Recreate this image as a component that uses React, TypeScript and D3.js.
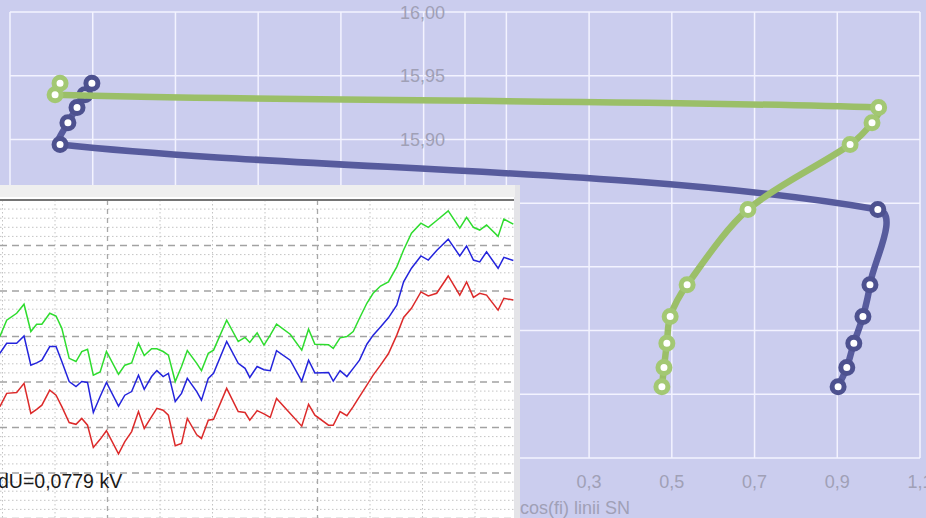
import React from 'react';
import * as d3 from 'd3';

const W = 926;
const H = 518;

// Main chart: voltage (kV) vs cos(fi)
const voltage = [15.706, 15.721, 15.74, 15.761, 15.786, 15.845, 15.896, 15.913, 15.925, 15.935, 15.944];
const cosGreen = [0.476, 0.481, 0.488, 0.496, 0.537, 0.684, 0.931, 0.984, 1.0, -0.991, -0.979];
const cosBlue = [0.902, 0.923, 0.94, 0.962, 0.979, 0.998, -0.979, -0.96, -0.938, -0.919, -0.902];
const xTicks = [-1.1, -0.9, -0.7, -0.5, -0.3, -0.1, 0.1, 0.3, 0.5, 0.7, 0.9, 1.1];
const yTicks = [15.65, 15.7, 15.75, 15.8, 15.85, 15.9, 15.95, 16.0];
const xTitle = 'cos(fi) linii SN';

// Inset chart (screenshot overlay): three phase traces
const insetTime = [-0.5, 0.8, 2.7, 4.1, 5.4, 6.5, 7.5, 9.0, 10.2, 11.3, 12.7, 14.0, 15.1, 16.2, 17.3, 18.6, 19.8, 22.1, 23.3, 24.6, 25.9, 27.0, 28.4, 29.4, 30.6, 31.6, 32.9, 34.1, 35.2, 37.0, 37.9, 39.2, 40.2, 42.7, 44.9, 46.2, 47.1, 48.5, 49.8, 51.0, 52.2, 54.8, 57.0, 58.3, 59.5, 62.1, 63.0, 64.3, 65.6, 66.8, 68.0, 69.4, 70.6, 72.0, 73.5, 75.1, 76.4, 77.9, 79.7, 81.1, 82.7, 84.9, 87.1, 88.4, 89.7, 90.9, 92.2, 94.4, 95.5, 97.3];
const insetGreen = [40.0, 43.6, 45.1, 47.1, 41.1, 42.7, 42.7, 45.1, 44.5, 41.8, 35.2, 34.5, 36.7, 37.2, 31.5, 32.2, 36.7, 31.7, 33.7, 34.2, 38.5, 35.8, 37.3, 37.3, 36.7, 35.9, 30.1, 33.4, 36.9, 34.1, 32.5, 36.3, 37.0, 43.6, 38.9, 39.8, 38.7, 40.8, 38.1, 40.3, 42.7, 40.5, 37.0, 41.6, 38.3, 38.2, 37.4, 39.7, 40.0, 41.1, 44.0, 47.3, 49.5, 51.1, 52.0, 55.3, 59.0, 62.7, 64.9, 64.0, 65.5, 67.6, 63.8, 66.2, 64.0, 63.4, 64.5, 62.0, 65.8, 64.7];
const insetBlue = [36.3, 38.5, 38.5, 40.1, 33.7, 34.2, 34.8, 37.8, 37.8, 34.5, 30.1, 29.0, 30.1, 29.9, 23.3, 26.8, 29.9, 24.7, 27.1, 27.9, 31.5, 28.4, 31.2, 32.5, 31.2, 31.9, 25.7, 27.5, 30.8, 27.9, 26.0, 30.8, 31.9, 38.9, 34.1, 33.0, 31.0, 33.4, 32.7, 32.5, 36.9, 34.8, 30.2, 34.8, 32.0, 32.1, 30.2, 32.5, 31.2, 33.0, 34.8, 38.3, 40.3, 42.1, 44.1, 46.9, 52.0, 55.0, 57.7, 56.8, 58.9, 61.4, 57.7, 59.9, 56.8, 56.4, 58.6, 55.0, 57.4, 56.7];
const insetRed = [24.6, 27.5, 27.7, 29.7, 23.1, 24.0, 24.9, 28.2, 27.1, 24.6, 21.1, 20.7, 22.0, 20.5, 15.6, 17.4, 19.3, 14.2, 16.9, 19.1, 23.5, 19.8, 22.4, 24.2, 23.8, 22.7, 16.0, 16.5, 22.0, 18.4, 17.6, 21.6, 21.8, 28.6, 23.5, 23.3, 21.6, 23.7, 23.0, 22.2, 26.4, 23.1, 20.3, 25.1, 22.7, 20.5, 20.5, 23.5, 22.6, 24.6, 26.8, 29.3, 31.5, 33.7, 36.2, 40.3, 44.2, 46.2, 49.8, 48.9, 49.5, 53.3, 49.1, 52.0, 48.6, 49.5, 49.1, 45.8, 48.4, 48.0];
const insetTimeTicks = [0, 10, 20, 30, 40, 50, 60, 70, 80, 90, 100];
const insetValueTicks = d3.range(0, 72, 2);
const insetNote = 'dU=0,0779 kV';

const BLUE = '#575b9d';
const GREEN = '#9bbf68';
const BG = '#cbcdee';
const LABEL = '#a0a0b6';
const FONT = 'Liberation Sans, Arial, sans-serif';

const fmt = (v: number) => d3.format('.2f')(v).replace('.', ',').replace('−', '-');
const fmt1 = (v: number) => d3.format('.1f')(v).replace('.', ',').replace('−', '-');

// Spline curve for d3.line: tangent along (next - prev), handle length
// proportional to each segment's own length (no overshoot on short segments).
const SMOOTH = 0.3;
function curveSpline(context: any) {
  let pts: [number, number][] = [];
  return {
    areaStart() {},
    areaEnd() {},
    lineStart() {
      pts = [];
    },
    point(px: number, py: number) {
      pts.push([+px, +py]);
    },
    lineEnd() {
      const n = pts.length;
      if (!n) return;
      context.moveTo(pts[0][0], pts[0][1]);
      const tan = pts.map((_, i) => {
        const a = pts[Math.max(0, i - 1)];
        const b = pts[Math.min(n - 1, i + 1)];
        const dx = b[0] - a[0];
        const dy = b[1] - a[1];
        const L = Math.hypot(dx, dy) || 1;
        return [dx / L, dy / L];
      });
      for (let i = 0; i < n - 1; i++) {
        const a = pts[i];
        const b = pts[i + 1];
        const k = Math.hypot(b[0] - a[0], b[1] - a[1]) * SMOOTH;
        context.bezierCurveTo(
          a[0] + tan[i][0] * k,
          a[1] + tan[i][1] * k,
          b[0] - tan[i + 1][0] * k,
          b[1] - tan[i + 1][1] * k,
          b[0],
          b[1]
        );
      }
    },
  };
}

export default function App() {
  const x = d3.scaleLinear().domain([-1.1, 1.1]).range([10, 920]);
  const y = d3.scaleLinear().domain([15.65, 16.0]).range([458, 12]);

  const line = d3
    .line<[number, number]>()
    .x((d) => x(d[0]))
    .y((d) => y(d[1]))
    .curve(curveSpline as any);

  const bluePts: [number, number][] = cosBlue.map((c, i) => [c, voltage[i]]);
  const greenPts: [number, number][] = cosGreen.map((c, i) => [c, voltage[i]]);

  // inset scales
  const tx = d3.scaleLinear().domain([0, 100]).range([2.5, 527.5]);
  const vy = d3.scaleLinear().domain([0, 70]).range([518.5, 200]);
  const iline = d3
    .line<number>()
    .x((_, i) => tx(insetTime[i]))
    .y((d) => vy(d));

  const series = [
    { pts: bluePts, color: BLUE, mk: '#4d518f' },
    { pts: greenPts, color: GREEN, mk: '#a3c873' },
  ];

  return (
    <svg
      width={W}
      height={H}
      style={{ position: 'absolute', left: 0, top: 0, display: 'block' }}
      fontFamily={FONT}
    >
      <rect x={0} y={0} width={W} height={H} fill={BG} />
      {/* grid */}
      {xTicks.map((t) => (
        <line key={'gx' + t} x1={x(t)} x2={x(t)} y1={y(16.0)} y2={y(15.65)} stroke="#f3f3ff" strokeWidth={1.5} />
      ))}
      <line x1={x(0)} x2={x(0)} y1={y(16.0)} y2={y(15.65)} stroke="#f3f3ff" strokeWidth={1.5} />
      {yTicks.map((t) => (
        <line key={'gy' + t} x1={x(-1.1)} x2={x(1.1)} y1={y(t)} y2={y(t)} stroke="#f3f3ff" strokeWidth={1.5} />
      ))}
      {/* y labels */}
      {yTicks.map((t) => (
        <text key={'ly' + t} x={x(0) - 20} y={y(t) + 6.5} textAnchor="end" fontSize={18} fill={LABEL}>
          {fmt(t)}
        </text>
      ))}
      {/* x labels */}
      {xTicks.map((t) => (
        <text key={'lx' + t} x={x(t)} y={488} textAnchor="middle" fontSize={18} fill={LABEL}>
          {fmt1(t)}
        </text>
      ))}
      <text x={520} y={514} fontSize={18} fill={LABEL}>
        {xTitle}
      </text>
      {/* series */}
      {series.map((s, si) => (
        <g key={'s' + si}>
          <path d={line(s.pts) || ''} fill="none" stroke={s.color} strokeWidth={6.5} strokeLinejoin="round" strokeLinecap="round" />
          {s.pts.map((p, i) => (
            <circle key={i} cx={x(p[0])} cy={y(p[1])} r={6} fill="#ffffff" stroke={s.mk} strokeWidth={5} />
          ))}
        </g>
      ))}

      {/* inset panel (overlaid screenshot) */}
      <g>
        <rect x={0} y={185} width={520} height={333} fill="#e4e4e8" />
        <rect x={0} y={185} width={515} height={12} fill="#efefef" />
        <rect x={0} y={197} width={514} height={321} fill="#ffffff" />
        <clipPath id="insetClip">
          <rect x={0} y={199} width={514} height={319} />
        </clipPath>
        <g clipPath="url(#insetClip)">
          {insetValueTicks.map((v) =>
            v % 10 === 0 ? null : (
              <line key={'iv' + v} x1={0} x2={514} y1={vy(v)} y2={vy(v)} stroke="#c4c4c4" strokeWidth={1} strokeDasharray="1.5 2.5" />
            )
          )}
          {insetTimeTicks.map((t) =>
            t % 20 === 0 && t % 40 !== 0 ? null : (
              <line key={'it' + t} x1={tx(t)} x2={tx(t)} y1={200} y2={518} stroke="#c4c4c4" strokeWidth={1} strokeDasharray="1.5 2.5" />
            )
          )}
          {insetValueTicks
            .filter((v) => v % 10 === 0 && v < 70)
            .map((v) => (
              <line key={'ivm' + v} x1={0} x2={514} y1={vy(v)} y2={vy(v)} stroke="#a2a2a2" strokeWidth={1.6} strokeDasharray="7 5" />
            ))}
          {insetTimeTicks
            .filter((t) => t % 20 === 0 && t % 40 !== 0)
            .map((t) => (
              <line key={'itm' + t} x1={tx(t)} x2={tx(t)} y1={200} y2={518} stroke="#a8a8a8" strokeWidth={1.3} strokeDasharray="5 4" />
            ))}
          <path d={iline(insetGreen) || ''} fill="none" stroke="#2edc2e" strokeWidth={1.5} />
          <path d={iline(insetBlue) || ''} fill="none" stroke="#2424dc" strokeWidth={1.5} />
          <path d={iline(insetRed) || ''} fill="none" stroke="#dc2a2a" strokeWidth={1.5} />
        </g>
        <line x1={0} x2={514} y1={vy(70)} y2={vy(70)} stroke="#747474" strokeWidth={2} />
        <text x={-2} y={488} fontSize={19.5} fill="#1a1a1a">
          {insetNote}
        </text>
      </g>
    </svg>
  );
}
